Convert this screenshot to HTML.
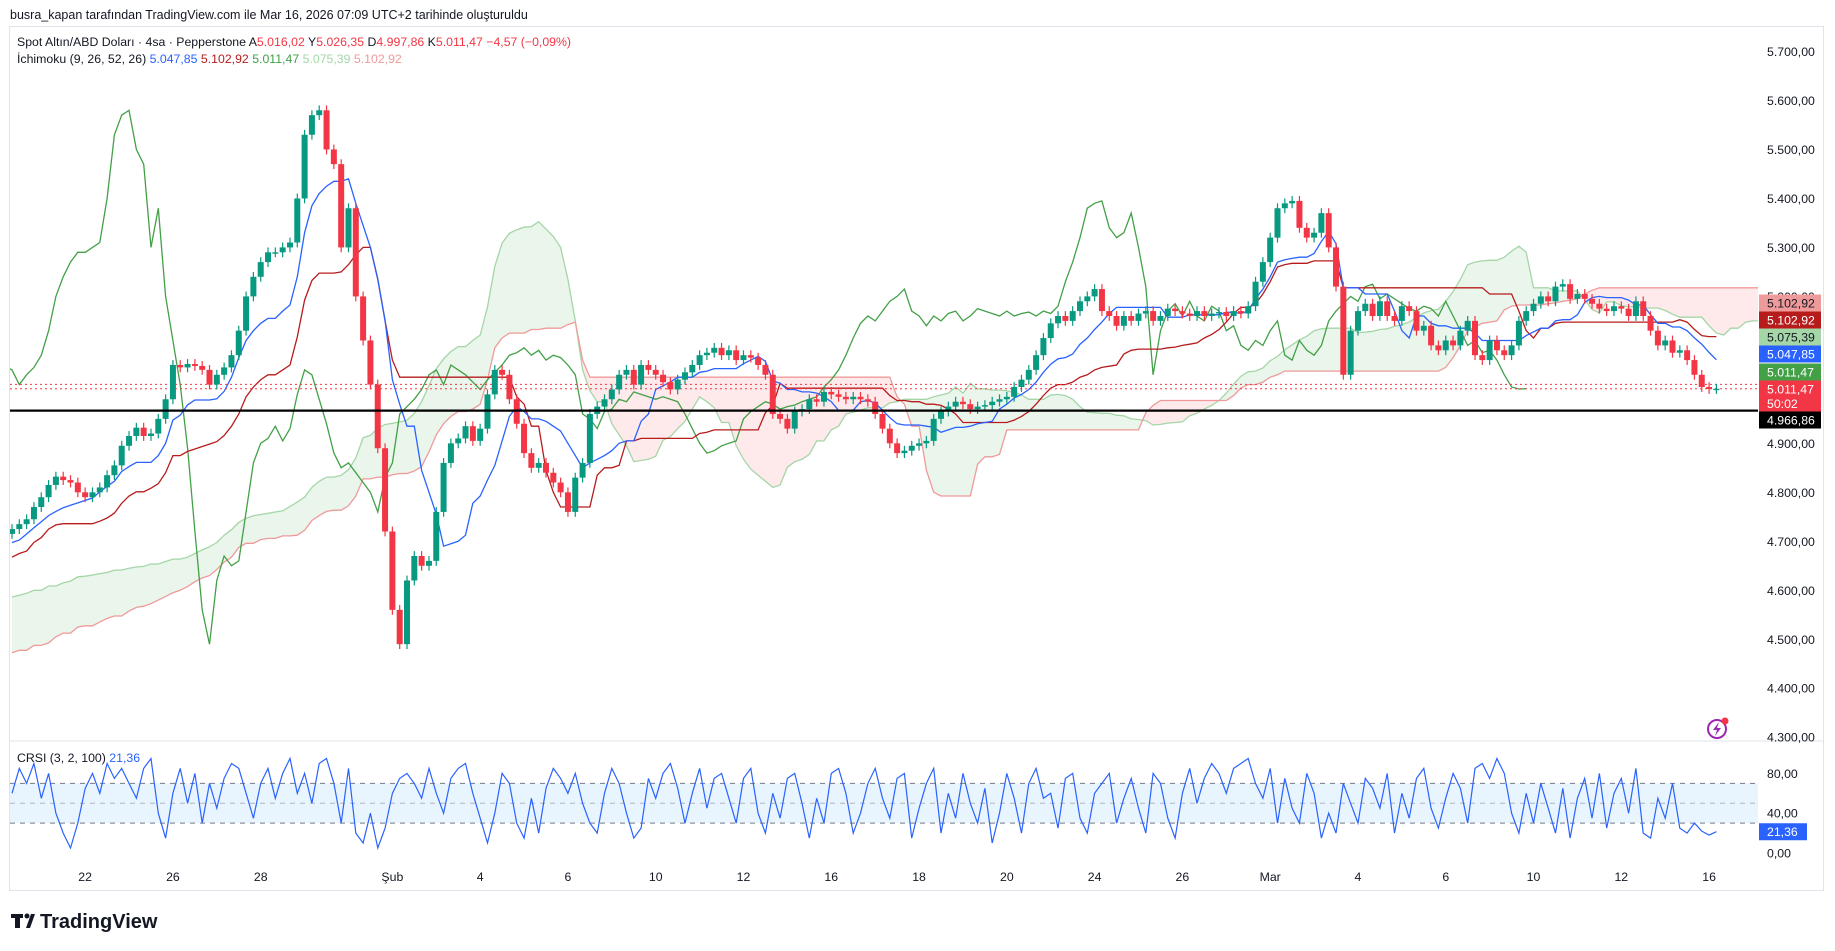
<!DOCTYPE html>
<html><head><meta charset="utf-8">
<style>
html,body{margin:0;padding:0;background:#fff;}
svg{display:block;font-family:"Liberation Sans",sans-serif;}
</style></head>
<body>
<svg id="chart" width="1835" height="951" viewBox="0 0 1835 951" xmlns="http://www.w3.org/2000/svg">
<defs><clipPath id="plotclip"><rect x="10" y="27" width="1748" height="714"/></clipPath>
<clipPath id="rsiclip"><rect x="10" y="742" width="1748" height="120"/></clipPath></defs>
<text x="10" y="19" font-size="12.5" fill="#131722">busra_kapan tarafından TradingView.com ile Mar 16, 2026 07:09 UTC+2 tarihinde oluşturuldu</text>
<rect x="9.5" y="26.5" width="1814" height="864" fill="#fff" stroke="#e0e3eb"/>
<line x1="10" y1="741" x2="1823" y2="741" stroke="#e0e3eb"/>
<g id="price" clip-path="url(#plotclip)"></g>
<g id="rsi" clip-path="url(#rsiclip)"></g>
<g id="axis"></g>
<text x="17" y="46" font-size="12.3" fill="#131722">Spot Altın/ABD Doları · 4sa · Pepperstone  A<tspan fill="#f23645">5.016,02</tspan>  Y<tspan fill="#f23645">5.026,35</tspan>  D<tspan fill="#f23645">4.997,86</tspan>  K<tspan fill="#f23645">5.011,47  −4,57 (−0,09%)</tspan></text>
<text x="17" y="63" font-size="12.3" fill="#131722">İchimoku (9, 26, 52, 26) <tspan fill="#2962ff">5.047,85</tspan>  <tspan fill="#b71c1c">5.102,92</tspan>  <tspan fill="#43a047">5.011,47</tspan>  <tspan fill="#a5d6a7">5.075,39</tspan>  <tspan fill="#ef9a9a">5.102,92</tspan></text>
<text x="17" y="762" font-size="12.3" fill="#131722">CRSI (3, 2, 100) <tspan fill="#2962ff">21,36</tspan></text>
<g><circle cx="1717" cy="729" r="9" fill="none" stroke="#9c27b0" stroke-width="2"/><path d="M1719 722 L1713 730 L1717 730 L1715 736 L1721 728 L1717 728 Z" fill="#9c27b0"/><circle cx="1725" cy="721" r="3.5" fill="#f23645"/></g>
<g><rect x="11" y="914" width="12" height="4" fill="#131722"/><rect x="15" y="914" width="5" height="14" fill="#131722"/><circle cx="27" cy="916" r="2.5" fill="#131722"/><path d="M26 928 L31 914 L35 914 L30 928 Z" fill="#131722"/><text x="40" y="928" font-size="20" font-weight="bold" fill="#131722">TradingView</text></g>
</svg>
<script>
const preCloses=[4330,4340,4335,4350,4360,4345,4370,4380,4375,4390,4400,4395,4410,4420,4430,4425,4440,4450,4460,4455,4470,4480,4490,4500,4510,4520,
4530,4525,4540,4550,4545,4560,4570,4560,4575,4585,4580,4590,4600,4595,4610,4605,4600,4590,4600,4610,4605,4615,4600,4595,4605,4600,
4610,4620,4615,4630,4625,4640,4635,4650,4645,4660,4655,4640,4650,4665,4670,4660,4675,4680,4670,4690,4685,4695,4700,4690,4705,4715];
const closes=[4725,4735,4745,4770,4790,4815,4832,4825,4820,4800,4790,4800,4810,4835,4855,4895,4915,4932,4915,4920,
4950,4990,5060,5055,5062,5058,5050,5020,5040,5055,5080,5130,5200,5240,5270,5290,5290,5300,5310,5400,
5530,5570,5580,5500,5470,5300,5380,5200,5110,5020,4890,4720,4560,4490,4620,4670,4650,4660,4760,4860,
4900,4910,4935,4905,4930,5000,5050,5040,4990,4940,4880,4850,4860,4840,4820,4800,4760,4830,4860,4960,
4975,4990,5010,5040,5050,5020,5060,5050,5040,5025,5010,5030,5045,5060,5080,5085,5095,5080,5090,5070,
5080,5075,5060,5040,4960,4950,4930,4965,4970,4990,4985,5005,5000,4995,4990,4995,4990,4985,4960,4930,
4900,4880,4885,4895,4900,4905,4950,4965,4975,4985,4980,4970,4975,4978,4985,4990,4995,5015,5030,5050,
5080,5115,5145,5160,5150,5170,5190,5200,5215,5170,5160,5140,5160,5150,5165,5170,5150,5160,5175,5170,
5165,5160,5170,5160,5165,5168,5160,5170,5165,5180,5230,5270,5320,5380,5390,5395,5340,5320,5330,5370,
5300,5220,5040,5130,5170,5185,5160,5190,5160,5150,5180,5170,5130,5140,5100,5090,5110,5100,5130,5150,
5080,5070,5110,5090,5080,5100,5150,5170,5185,5200,5190,5220,5225,5195,5205,5195,5185,5175,5170,5180,
5175,5160,5190,5160,5130,5100,5110,5085,5090,5070,5040,5015,5011,5011.47];
const crsi=[60,85,70,90,55,80,40,20,5,30,65,80,60,90,75,85,70,55,85,95,
40,15,60,85,50,80,30,70,45,75,90,85,60,35,70,85,55,80,95,60,
80,50,90,95,70,30,85,20,10,40,5,25,60,75,80,70,55,85,60,40,
75,85,90,60,35,10,40,80,70,30,15,55,20,65,85,75,60,80,50,30,
20,60,85,70,40,15,25,75,55,80,90,65,30,60,85,45,75,80,55,30,
75,85,40,20,60,35,75,80,50,15,55,30,80,85,60,20,40,70,85,55,
35,75,80,15,45,70,85,20,60,35,80,50,30,65,10,40,80,55,20,70,
85,55,60,25,75,80,35,20,60,70,80,30,55,75,45,20,80,70,35,15,
60,85,50,75,90,80,60,85,90,95,70,55,85,30,75,45,30,80,60,15,
40,20,70,50,30,75,65,45,80,20,60,35,75,85,45,25,55,80,65,30,
85,90,75,95,80,40,20,60,30,70,45,20,65,15,55,75,35,80,25,60,
75,40,85,20,15,55,35,70,25,20,30,22,18,21.36];
const priceTicks=[5700,5600,5500,5400,5300,5200,5100,5000,4900,4800,4700,4600,4500,4400,4300];
const priceTickLabels=["5.700,00","5.600,00","5.500,00","5.400,00","5.300,00","5.200,00","5.100,00","5.000,00","4.900,00","4.800,00","4.700,00","4.600,00","4.500,00","4.400,00","4.300,00"];
const dateLabels=["22","26","28","Şub","4","6","10","12","16","18","20","24","26","Mar","4","6","10","12","16"];
const dateBarIndex=[10,22,34,52,64,76,88,100,112,124,136,148,160,172,184,196,208,220,232];
const rsiTicks=[80,40,0];
const rsiTickLabels=["80,00","40,00","0,00"];
const supportLevel=4966.86;
const lastPrice=5011.47;

const NS="http://www.w3.org/2000/svg";
const P=preCloses.length;
const yP=p=>51.5+(5700-p)*0.4898;
const yR=v=>853-v*0.995;
const xB=i=>12+i*7.315;
function mk(parent,tag,attrs){const e=document.createElementNS(NS,tag);for(const k in attrs)e.setAttribute(k,attrs[k]);parent.appendChild(e);return e;}
const gP=document.getElementById('price'),gR=document.getElementById('rsi'),gA=document.getElementById('axis');

const all=preCloses.concat(closes);
const opens=all.map((c,k)=>k===0?c-5:all[k-1]);
const highs=all.map((c,k)=>Math.max(c,opens[k])+10);
const lows=all.map((c,k)=>Math.min(c,opens[k])-10);
function mid(k,n){let hh=-1e9,ll=1e9;for(let j=Math.max(0,k-n+1);j<=k;j++){hh=Math.max(hh,highs[j]);ll=Math.min(ll,lows[j]);}return (hh+ll)/2;}
const tenkan=all.map((c,k)=>mid(k,9)),kijun=all.map((c,k)=>mid(k,26));
const spanA=[],spanB=[];
for(let k=52;k<all.length;k++){spanA.push([k+26,(tenkan[k]+kijun[k])/2]);spanB.push([k+26,mid(k,52)]);}
const gx=k=>xB(k-P);

for(let s=0;s<spanA.length-1;s++){
  const a0=spanA[s],a1=spanA[s+1],b0=spanB[s],b1=spanB[s+1];
  const up=(a0[1]+a1[1])>=(b0[1]+b1[1]);
  const q=mk(gP,'polygon',{points:`${gx(a0[0])},${yP(a0[1])} ${gx(a1[0])},${yP(a1[1])} ${gx(b1[0])},${yP(b1[1])} ${gx(b0[0])},${yP(b0[1])}`,fill:up?'rgba(67,160,71,0.11)':'rgba(242,54,69,0.11)'});
  
  
}
function line(pts,color,w,name){
  const l=mk(gP,'polyline',{points:pts.map(p=>p[0].toFixed(1)+','+p[1].toFixed(1)).join(' '),fill:'none',stroke:color,'stroke-width':w});
  
  
}
line(spanA.map(p=>[gx(p[0]),yP(p[1])]),'#a5d6a7',1.3,'senkou-span-a');
line(spanB.map(p=>[gx(p[0]),yP(p[1])]),'#ef9a9a',1.3,'senkou-span-b');
const vis=[];for(let k=P;k<all.length;k++)vis.push(k);
line(vis.filter(k=>k-26>=P-2).map(k=>[gx(k-26),yP(all[k])]),'#43a047',1.3,'chikou-span');
line(vis.map(k=>[gx(k),yP(kijun[k])]),'#b71c1c',1.3,'kijun-sen');
line(vis.map(k=>[gx(k),yP(tenkan[k])]),'#2962ff',1.3,'tenkan-sen');

const d1=mk(gP,'line',{x1:10,x2:1758,y1:yP(lastPrice+9),y2:yP(lastPrice+9),stroke:'#f23645','stroke-dasharray':'2 3'});


const d2=mk(gP,'line',{x1:10,x2:1758,y1:yP(lastPrice),y2:yP(lastPrice),stroke:'#f23645','stroke-dasharray':'2 3'});



for(let k=P;k<all.length;k++){
  const o=opens[k],c=all[k],up=c>=o,col=up?'#089981':'#f23645',x=gx(k);
  const w=mk(gP,'line',{x1:x,x2:x,y1:yP(highs[k]),y2:yP(lows[k]),stroke:col,'stroke-width':1.2});
  
  
  const b=mk(gP,'rect',{x:x-3,width:6,y:yP(Math.max(o,c)),height:Math.max(1.4,Math.abs(yP(o)-yP(c))),fill:col});
  
  
}
const sl=mk(gP,'line',{x1:10,x2:1758,y1:yP(supportLevel),y2:yP(supportLevel),stroke:'#000','stroke-width':2.2});



const band=mk(gR,'rect',{x:10,width:1748,y:yR(70),height:yR(30)-yR(70),fill:'rgba(33,150,243,0.1)'});


[70,50,30].forEach(v=>{
  const l=mk(gR,'line',{x1:10,x2:1758,y1:yR(v),y2:yR(v),stroke:v===50?'#b2b5be':'#787b86','stroke-dasharray':'5 5','stroke-width':1});
  
  
});
const rl=mk(gR,'polyline',{points:crsi.map((v,i)=>xB(i).toFixed(1)+','+yR(v).toFixed(1)).join(' '),fill:'none',stroke:'#2962ff','stroke-width':1.2});



priceTicks.forEach((p,i)=>{
  const t=mk(gA,'text',{x:1767,y:yP(p)+4.5,'font-size':12.3,fill:'#131722'});
  t.textContent=priceTickLabels[i];
  
  
});
rsiTicks.forEach((v,i)=>{
  const t=mk(gA,'text',{x:1767,y:yR(v)+4.5,'font-size':12.3,fill:'#131722'});
  t.textContent=rsiTickLabels[i];
  
  
});
dateLabels.forEach((d,i)=>{
  const t=mk(gA,'text',{x:xB(dateBarIndex[i]),y:881,'font-size':12.3,fill:'#131722','text-anchor':'middle'});
  t.textContent=d;
  
  
});
const tags=[["5.102,92","#ef9a9a","#131722",303],["5.102,92","#b71c1c","#fff",320],["5.075,39","#a5d6a7","#131722",337],["5.047,85","#2962ff","#fff",354],["5.011,47","#43a047","#fff",372],["5.011,47","#f23645","#fff",389],["4.966,86","#000","#fff",420]];
tags.forEach(t=>{
  const h=t[0]==="5.011,47"&&t[1]==="#f23645"?31:17;
  const r=mk(gA,'rect',{x:1759,y:t[3]-8.5,width:62,height:h,fill:t[1]});
  
  
  const tx=mk(gA,'text',{x:1767,y:t[3]+4.5,'font-size':12.3,fill:t[2]});
  tx.textContent=t[0];
  
  
});
const cd=mk(gA,'text',{x:1767,y:408,'font-size':12.3,fill:'#fff'});
cd.textContent='50:02';


const rt=mk(gA,'rect',{x:1759,y:yR(crsi[crsi.length-1])-8.5,width:48,height:17,fill:'#2962ff'});


const rtt=mk(gA,'text',{x:1767,y:yR(crsi[crsi.length-1])+4.5,'font-size':12.3,fill:'#fff'});
rtt.textContent='21,36';


</script>
</body></html>
